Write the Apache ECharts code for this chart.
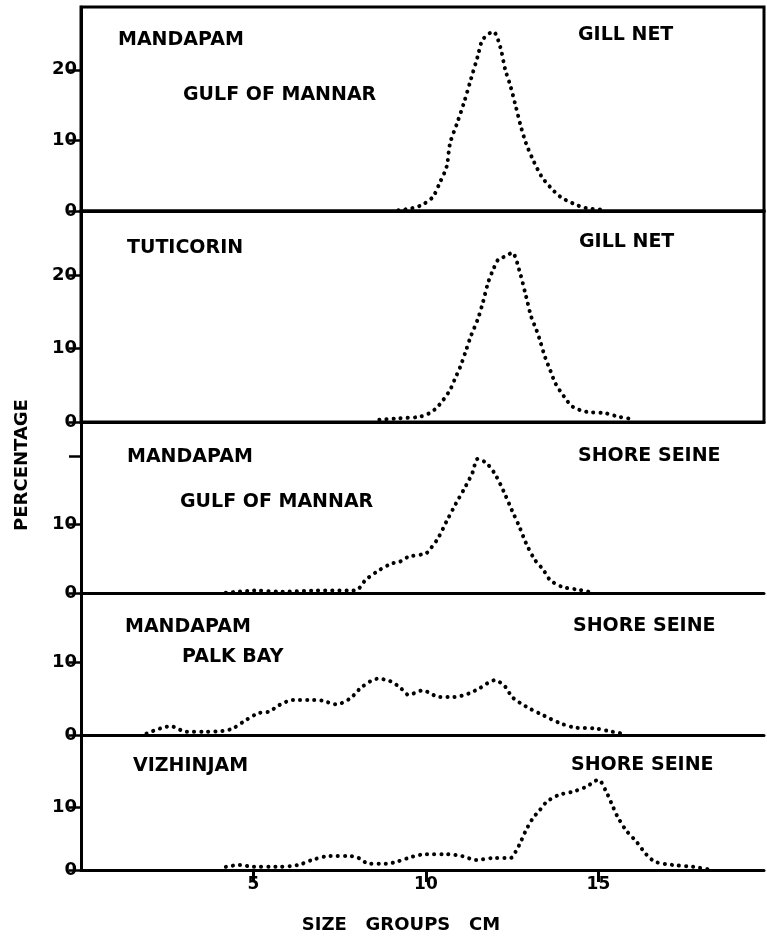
<!DOCTYPE html>
<html lang="en">
<head>
    <meta charset="UTF-8">
    <title>Size groups</title>
    <script src="https://cdn.jsdelivr.net/npm/echarts@6/dist/echarts.min.js"></script>
    <style>
        html, body { margin: 0; padding: 0; background: #fff; }
        #main { width: 767px; height: 938px; }
    </style>
</head>
<body>
<div id="main"></div>
<script type="text/javascript">
    // size groups (cm) and percentage, one pair of arrays per panel
    var size1 = [9.2, 9.6, 9.9, 10.2, 10.4, 10.6, 10.7, 10.9, 11.1, 11.3, 11.5, 11.65, 11.95, 12.15, 12.3, 12.45, 12.6, 12.75, 12.9, 13.1, 13.35, 13.6, 13.9, 14.25, 14.65, 15.2];
    var pct1  = [0.1, 0.4, 0.9, 2.0, 4.0, 6.3, 9.6, 12.4, 15.3, 18.6, 21.9, 24.3, 25.4, 23.3, 20.0, 17.7, 14.9, 12.0, 9.6, 7.3, 4.9, 3.4, 2.0, 1.1, 0.4, 0.2];

    var size2 = [8.65, 9.2, 9.8, 10.1, 10.3, 10.5, 10.7, 10.85, 11.0, 11.15, 11.3, 11.5, 11.65, 11.8, 11.95, 12.1, 12.3, 12.5, 12.7, 12.9, 13.05, 13.2, 13.3, 13.45, 13.6, 13.75, 14.0, 14.25, 14.65, 15.2, 15.6, 16.0];
    var pct2  = [0.3, 0.5, 0.7, 1.2, 1.9, 3.0, 4.4, 6.0, 7.6, 9.6, 11.7, 14.0, 16.3, 19.0, 20.8, 22.2, 22.6, 23.1, 20.8, 17.2, 14.4, 12.6, 11.2, 8.9, 7.1, 5.3, 3.5, 2.1, 1.4, 1.2, 0.7, 0.4];

    var size3 = [4.2, 4.6, 5.0, 5.85, 6.8, 7.8, 8.0, 8.25, 8.6, 9.0, 9.25, 9.5, 10.0, 10.15, 10.35, 10.6, 10.85, 11.15, 11.35, 11.5, 11.75, 12.0, 12.25, 12.5, 12.7, 12.9, 13.15, 13.4, 13.6, 13.95, 14.45, 14.9];
    var pct3  = [0.05, 0.2, 0.35, 0.2, 0.35, 0.35, 0.45, 1.9, 3.2, 4.3, 4.6, 5.3, 5.8, 6.6, 8.0, 10.5, 12.9, 15.6, 17.6, 19.6, 19.0, 17.4, 14.9, 12.0, 9.8, 7.3, 4.9, 3.4, 1.9, 0.9, 0.45, 0.0];

    var size4 = [1.9, 2.3, 2.6, 3.05, 3.6, 4.1, 4.4, 4.8, 5.15, 5.45, 5.75, 6.15, 6.6, 7.0, 7.4, 7.8, 8.15, 8.6, 8.95, 9.25, 9.5, 9.9, 10.4, 10.8, 11.25, 11.55, 12.0, 12.3, 12.5, 12.9, 13.4, 13.9, 14.35, 14.9, 15.4, 15.8];
    var pct4  = [0.2, 0.9, 1.2, 0.45, 0.45, 0.55, 0.9, 2.1, 3.0, 3.2, 4.1, 4.8, 4.8, 4.7, 4.2, 5.0, 6.6, 7.7, 7.4, 6.5, 5.5, 6.1, 5.2, 5.2, 5.7, 6.4, 7.5, 6.6, 5.2, 3.9, 2.7, 1.6, 1.0, 0.9, 0.45, 0.1];

    var size5 = [4.2, 4.6, 5.0, 5.65, 6.3, 6.7, 7.2, 7.8, 8.05, 8.35, 8.85, 9.15, 9.6, 10.0, 10.6, 11.05, 11.45, 11.95, 12.45, 12.6, 12.75, 12.9, 13.1, 13.3, 13.5, 13.85, 14.25, 14.65, 15.0, 15.2, 15.4, 15.55, 15.8, 16.1, 16.4, 16.65, 17.15, 17.75, 18.3];
    var pct5  = [0.5, 0.8, 0.5, 0.5, 0.8, 1.6, 2.2, 2.2, 1.9, 1.0, 1.0, 1.3, 2.1, 2.5, 2.5, 2.2, 1.6, 1.9, 1.9, 2.9, 4.5, 6.3, 8.2, 9.5, 10.8, 11.9, 12.4, 13.2, 14.3, 12.7, 10.3, 8.5, 6.3, 4.5, 2.4, 1.3, 0.8, 0.5, 0.0];

    var xTicks = [5, 10, 15];
    var yTicks = [[0, 10, 20], [0, 10, 20], [0, 10, 20], [0, 10], [0, 10]];
    var yLabels = [[0, 10, 20], [0, 10, 20], [0, 10], [0, 10], [0, 10]];
    var yMax = [28.9, 28.8, 25, 19.45, 21.4];

    var places = [
        ['MANDAPAM', 'GULF OF MANNAR', 'GILL NET'],
        ['TUTICORIN', '', 'GILL NET'],
        ['MANDAPAM', 'GULF OF MANNAR', 'SHORE SEINE'],
        ['MANDAPAM', 'PALK BAY', 'SHORE SEINE'],
        ['VIZHINJAM', '', 'SHORE SEINE']
    ];

    var sizes = [size1, size2, size3, size4, size5];
    var pcts = [pct1, pct2, pct3, pct4, pct5];

    // panel layout (pixels)
    var gridTop = [7, 211, 422, 593, 735];
    var gridH = [204, 211, 171, 142, 135];
    var FONT = 'DejaVu Sans';

    function pairs(xs, ys) {
        var out = [];
        for (var i = 0; i < xs.length; i++) out.push([xs[i], ys[i]]);
        return out;
    }

    var grids = [], xAxes = [], yAxes = [], series = [], texts = [];
    // label positions: [left x, centre y] for the three texts of each panel
    var textPos = [
        [[118, 40], [183, 95], [578, 35]],
        [[127, 248], null, [579, 242]],
        [[127, 457], [180, 502], [578, 456]],
        [[125, 627], [182, 657], [573, 626]],
        [[133, 766], null, [571, 765]]
    ];

    for (var i = 0; i < 5; i++) {
        var last = (i === 4);
        grids.push({
            left: 81, width: 683, top: gridTop[i], height: gridH[i],
            show: i < 2, borderColor: '#000', borderWidth: 3, backgroundColor: 'transparent'
        });
        xAxes.push({
            type: 'value', gridIndex: i, min: 0, max: 19.8,
            axisLine: { show: true, lineStyle: { color: '#000', width: 3 } },
            axisTick: { show: last, length: 12, lineStyle: { color: '#000', width: 3 }, customValues: xTicks },
            axisLabel: { show: last, margin: 6, color: '#000', fontFamily: FONT, fontWeight: 'bold', fontSize: 17, customValues: xTicks },
            splitLine: { show: false }
        });
        yAxes.push({
            type: 'value', gridIndex: i, min: 0, max: yMax[i],
            axisLine: { show: true, lineStyle: { color: '#000', width: 3 } },
            axisTick: { show: true, length: 12, lineStyle: { color: '#000', width: 2.5 }, customValues: yTicks[i] },
            axisLabel: { margin: 4, color: '#000', fontFamily: FONT, fontWeight: 'bold', fontSize: 18, customValues: yLabels[i] },
            splitLine: { show: false }
        });
        series.push({
            type: 'line', xAxisIndex: i, yAxisIndex: i,
            data: pairs(sizes[i], pcts[i]),
            smooth: 0.3, symbol: 'none',
            lineStyle: { color: '#000', width: 4, type: [0.1, 7], cap: 'round' }
        });
        for (var k = 0; k < 3; k++) {
            if (!places[i][k]) continue;
            texts.push({
                type: 'text', x: textPos[i][k][0], y: textPos[i][k][1],
                style: {
                    text: places[i][k], fill: '#000', align: 'left', verticalAlign: 'middle',
                    font: 'bold 19px "' + FONT + '"'
                }
            });
        }
    }

    texts.push({
        type: 'text', x: 22, y: 465, rotation: Math.PI / 2,
        style: { text: 'PERCENTAGE', fill: '#000', align: 'center', verticalAlign: 'middle', font: 'bold 18px "' + FONT + '"' }
    });
    texts.push({
        type: 'text', x: 401, y: 925,
        style: { text: 'SIZE   GROUPS   CM', fill: '#000', align: 'center', verticalAlign: 'middle', font: 'bold 18px "' + FONT + '"' }
    });

    var myChart = echarts.init(document.getElementById('main'));
    myChart.setOption({
        backgroundColor: '#fff',
        animation: false,
        grid: grids,
        xAxis: xAxes,
        yAxis: yAxes,
        series: series,
        graphic: texts
    });
</script>
</body>
</html>
